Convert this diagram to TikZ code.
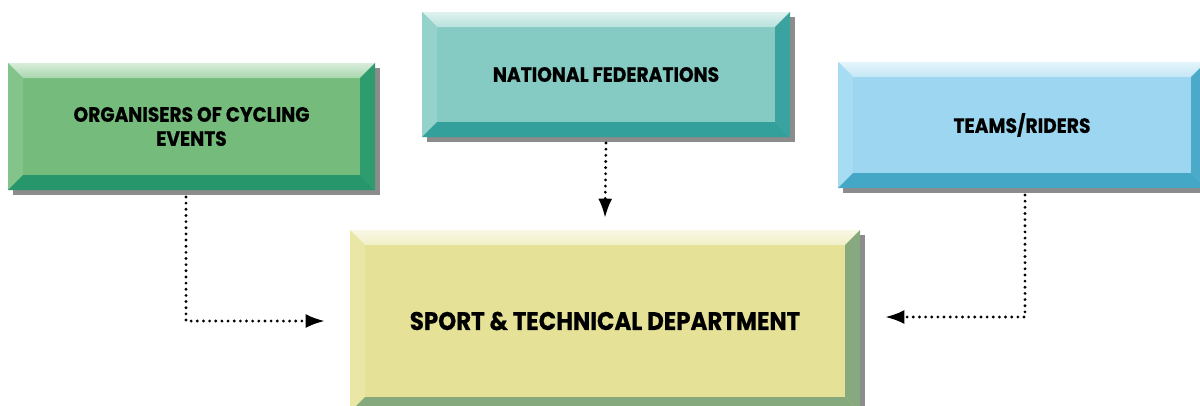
\documentclass[tikz,border=0pt]{standalone}
\usepackage{fontspec}
\newfontfamily\boxfont{Poppins}[FakeStretch=0.9, BoldFeatures={FakeBold=0.6}]
\usetikzlibrary{arrows.meta,shadows,calc}

\definecolor{grnface}{HTML}{74BB7C}
\definecolor{grntop}{HTML}{A9D6AE}
\definecolor{grnleft}{HTML}{84C48B}
\definecolor{grnright}{HTML}{2E9C6E}
\definecolor{grnbot}{HTML}{27966A}
\definecolor{tealface}{HTML}{86CBC3}
\definecolor{tealtop}{HTML}{B8E2DD}
\definecolor{tealleft}{HTML}{95D2CB}
\definecolor{tealright}{HTML}{3AA3A0}
\definecolor{tealbot}{HTML}{33A09C}
\definecolor{blueface}{HTML}{9DD6F0}
\definecolor{bluetop}{HTML}{C4E7F6}
\definecolor{blueleft}{HTML}{A8DCF2}
\definecolor{blueright}{HTML}{4AAAC8}
\definecolor{bluebot}{HTML}{45A7C6}
\definecolor{yelface}{HTML}{E5E298}
\definecolor{yeltop}{HTML}{F1EFC6}
\definecolor{yelleft}{HTML}{E9E6A6}
\definecolor{yelright}{HTML}{86A97F}
\definecolor{yelbot}{HTML}{85A87D}
\definecolor{shadowgray}{HTML}{8C8C8C}

% bevel round a named box: node, top, left, right, bottom
\newcommand{\bevel}[5]{%
\shade[top color=#2!45!white, bottom color=#2] (#1.north west) -- (#1.north east) -- ($(#1.north east)+(-0.3,-0.3)$) -- ($(#1.north west)+(0.3,-0.3)$) -- cycle;
\fill[#3] (#1.north west) -- ($(#1.north west)+(0.3,-0.3)$) -- ($(#1.south west)+(0.3,0.3)$) -- (#1.south west) -- cycle;
\fill[#4] (#1.north east) -- ($(#1.north east)+(-0.3,-0.3)$) -- ($(#1.south east)+(-0.3,0.3)$) -- (#1.south east) -- cycle;
\fill[#5] (#1.south west) -- ($(#1.south west)+(0.3,0.3)$) -- ($(#1.south east)+(-0.3,0.3)$) -- (#1.south east) -- cycle;
}

\tikzset{
  box/.style={rectangle, outer sep=0pt, align=center, text=black,
    font=\boxfont\bfseries\fontsize{11.8}{13.7}\selectfont,
    drop shadow={shadow xshift=0.1cm, shadow yshift=-0.1cm, fill=shadowgray, opacity=1}},
  flow/.style={line width=1.8pt, dash pattern=on 0pt off 3.5pt, line cap=round,
    -{Latex[length=11pt,width=8pt]}}
}

\begin{document}
\begin{tikzpicture}
\useasboundingbox (0,0) rectangle (24,-8.1);

\node [box, fill=grnface, minimum width=7.34cm, minimum height=2.54cm] (org) at (3.83,-2.53) {ORGANISERS OF CYCLING\\EVENTS};
\node [box, fill=tealface, minimum width=7.36cm, minimum height=2.5cm] (nat) at (12.12,-1.49) {NATIONAL FEDERATIONS};
\node [box, fill=blueface, minimum width=7.36cm, minimum height=2.52cm] (teams) at (20.44,-2.5) {TEAMS/RIDERS};
\node [box, fill=yelface, minimum width=10.2cm, minimum height=3.64cm, font=\boxfont\bfseries\fontsize{14.5}{17}\selectfont] (dept) at (12.1,-6.42) {SPORT \& TECHNICAL DEPARTMENT};

\bevel{org}{grntop}{grnleft}{grnright}{grnbot}
\bevel{nat}{tealtop}{tealleft}{tealright}{tealbot}
\bevel{teams}{bluetop}{blueleft}{blueright}{bluebot}
\bevel{dept}{yeltop}{yelleft}{yelright}{yelbot}

\draw [flow] ([xshift=-0.11cm,yshift=-0.14cm]org.south) |- ([xshift=-0.5cm]dept.west);
\draw [flow] ([yshift=-0.12cm]nat.south) -- ([yshift=0.24cm]dept.north);
\draw [flow] ([xshift=0.06cm,yshift=-0.14cm]teams.south) |- ([xshift=0.5cm,yshift=0.08cm]dept.east);
\end{tikzpicture}
\end{document}
